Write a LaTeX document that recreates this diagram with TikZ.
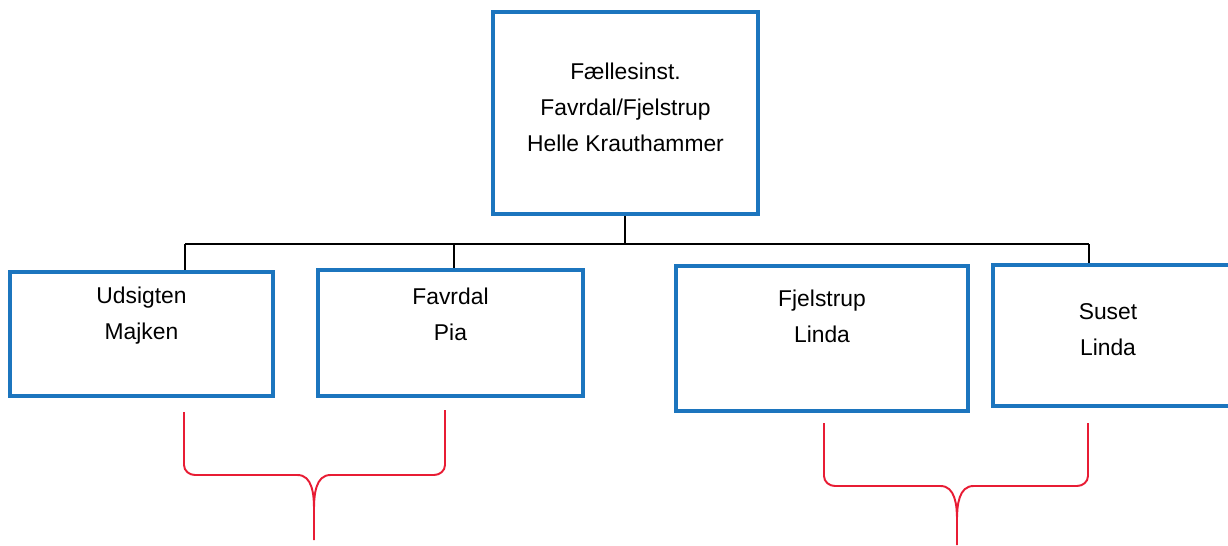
\documentclass[tikz,border=0pt]{standalone}
\usepackage{fontspec}
\setmainfont{Liberation Sans}
\definecolor{boxblue}{RGB}{28,117,190}
\definecolor{bracered}{RGB}{232,28,52}
\tikzset{
  unit/.style={draw=boxblue, line width=2.8pt, fill=white, inner sep=0pt},
  unittxt/.style={align=center, font=\fontsize{13}{20.5}\selectfont, inner sep=0pt},
  link/.style={line width=0.8pt, black},
  brace/.style={line width=1.1pt, bracered, line join=round}
}
\begin{document}
\begin{tikzpicture}
  \useasboundingbox (0,0) rectangle (24.56,-10.9);

  % boxes
  \node[unit, minimum width=5.30cm, minimum height=4.04cm] at (12.51,-2.26) (fi) {};
  \node[unit, minimum width=5.26cm, minimum height=2.48cm] at (2.83,-6.68) (uds) {};
  \node[unit, minimum width=5.30cm, minimum height=2.52cm] at (9.01,-6.66) (fav) {};
  \node[unit, minimum width=5.84cm, minimum height=2.90cm] at (16.44,-6.77) (fje) {};
  \node[unit, minimum width=4.80cm, minimum height=2.82cm] at (22.26,-6.71) (sus) {};

  % texts
  \node[unittxt] at (12.51,-2.14) (fitxt) {Fællesinst.\\Favrdal/Fjelstrup\\Helle Krauthammer};
  \node[unittxt] at (2.83,-6.32) (udstxt) {Udsigten\\Majken};
  \node[unittxt] at (9.01,-6.29) (favtxt) {Favrdal\\Pia};
  \node[unittxt] at (16.44,-6.32) (fjetxt) {Fjelstrup\\Linda};
  \node[unittxt] at (22.16,-6.59) (sustxt) {Suset\\Linda};

  % bus
  \coordinate (busmid) at (12.5,-4.88);
  \coordinate (busl) at (3.70,-4.88);
  \coordinate (busb) at (9.08,-4.88);
  \coordinate (busr) at (21.78,-4.88);
  \draw[link] (fi.south -| busmid) -- (busmid);
  \draw[link] (busl) -- (busr);
  \draw[link] (busl) -- (busl |- uds.north);
  \draw[link] (busb) -- (busb |- fav.north);
  \draw[link] (busr) -- (busr |- sus.north);

  % braces
  \draw[brace] (3.68,-8.24) -- (3.68,-9.3) to[out=-90,in=180] (3.9,-9.5)
    -- (5.95,-9.5) to[out=0,in=90] (6.28,-10.2) -- (6.28,-10.8);
  \draw[brace] (8.90,-8.20) -- (8.90,-9.3) to[out=-90,in=0] (8.68,-9.5)
    -- (6.61,-9.5) to[out=180,in=90] (6.28,-10.2);
  \draw[brace] (16.48,-8.46) -- (16.48,-9.52) to[out=-90,in=180] (16.7,-9.72)
    -- (18.81,-9.72) to[out=0,in=90] (19.14,-10.4) -- (19.14,-10.9);
  \draw[brace] (21.76,-8.46) -- (21.76,-9.52) to[out=-90,in=0] (21.54,-9.72)
    -- (19.47,-9.72) to[out=180,in=90] (19.14,-10.4);

\end{tikzpicture}
\end{document}
